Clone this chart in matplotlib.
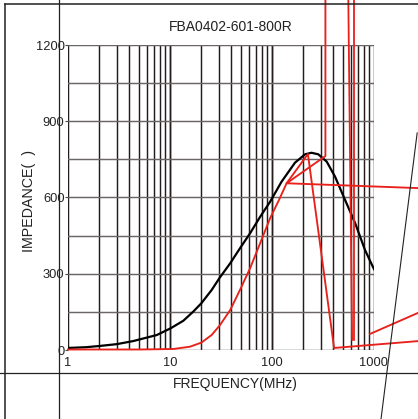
import numpy as np
import matplotlib
matplotlib.use("Agg")
import matplotlib.pyplot as plt

plt.rcParams['font.family'] = ['Liberation Sans', 'DejaVu Sans']

# ---- data ----
title = "FBA0402-601-800R"
x_label = "FREQUENCY(MHz)"
y_label = "IMPEDANCE(  )"
x_ticks = [1, 10, 100, 1000]
x_tick_labels = ["1", "10", "100", "1000"]
y_ticks = [0, 300, 600, 900, 1200]
y_grid = [0, 150, 300, 450, 600, 750, 900, 1050, 1200]

z_freq = [1, 1.5, 2.06, 3.0, 4.34, 5.08, 7.43, 10.1, 13.5, 16.9, 20.3, 25.6, 30.9, 38.9,
          48.5, 60.9, 76.5, 95.7, 124, 168, 211, 244, 284, 344, 415, 521, 655, 817, 1000]
z_vals = [8, 11, 16, 23, 35, 42, 59, 85, 115, 151, 184, 236, 286, 341,
          400, 459, 524, 583, 662, 737, 770, 776, 770, 741, 682, 590, 498, 393, 318]

r_freq = [1, 5, 10.8, 15.7, 20.3, 25.6, 30.9, 38.9, 48.5, 60.9, 76.5, 95.7, 117, 139, 225, 406, 2700]
r_vals = [2, 2, 4, 13, 29, 59, 98, 157, 236, 321, 420, 518, 590, 656, 771, 8, 35]

# stray red marker strokes on the scanned sheet (freq, impedance)
red_path_a_f = [334, 334, 139, 2700]
red_path_a_z = [1377, 763, 656, 637]
red_pair1_f = [560, 610]
red_pair1_z = [1377, 40]
red_pair2_f = [640, 640]
red_pair2_z = [1377, 40]
red_stub_f = [912, 2700]
red_stub_z = [63, 146]

# stray black line on the sheet
black_diag_f = [2650, 1172]
black_diag_z = [854, -271]

RED = '#e8211b'

fig = plt.figure(figsize=(4.18, 4.19), dpi=100)
ax = fig.add_axes([68/418, 1-350/419, 306/418, 305/419])
ax.set_xscale('log')
ax.set_xlim(1, 1000)
ax.set_ylim(0, 1200)

# grid
for dec in [1, 10, 100]:
    for m in range(1, 11):
        ax.axvline(dec*m, color='#231c1c', lw=1.05, zorder=1)
for g in y_grid:
    ax.axhline(g, color='#6b6565', lw=1.05, zorder=1)

for s in ax.spines.values():
    s.set_visible(False)

ax.set_xticks(x_ticks)
ax.set_xticklabels(x_tick_labels)
ax.xaxis.set_minor_locator(matplotlib.ticker.NullLocator())
ax.tick_params(axis='x', length=0, pad=5, labelsize=9.3, colors='#222222')
ax.set_yticks(y_ticks)
ax.tick_params(axis='y', length=2, width=0.8, pad=0.5, labelsize=9.3, colors='#444444', labelcolor='#222222')

ax.plot(z_freq, z_vals, color='black', lw=1.6, zorder=3, solid_joinstyle='round')
ax.plot(r_freq, r_vals, color=RED, lw=1.35, zorder=4, clip_on=False, solid_joinstyle='round')

ax.plot(red_path_a_f, red_path_a_z, color=RED, lw=1.35, zorder=4, clip_on=False)
ax.plot(red_pair1_f, red_pair1_z, color=RED, lw=1.3, zorder=4, clip_on=False)
ax.plot(red_pair2_f, red_pair2_z, color=RED, lw=1.3, zorder=4, clip_on=False)
ax.plot(red_stub_f, red_stub_z, color=RED, lw=1.35, zorder=4, clip_on=False)
ax.plot(black_diag_f, black_diag_z, color='#222222', lw=0.8, zorder=4, clip_on=False)

# sheet frame lines
fig.add_artist(plt.Line2D([5/418, 5/418], [0, 1-4/419], transform=fig.transFigure, color='#222222', lw=1.1))
fig.add_artist(plt.Line2D([5/418, 1], [1-4/419, 1-4/419], transform=fig.transFigure, color='#222222', lw=1.1))
fig.add_artist(plt.Line2D([59/418, 59/418], [0, 1], transform=fig.transFigure, color='#222222', lw=0.9))
fig.add_artist(plt.Line2D([0, 1], [1-373/419, 1-373/419], transform=fig.transFigure, color='#222222', lw=0.9))

fig.text(231/418, 1-27/419, title, ha='center', va='center', fontsize=10, color='#222222')
fig.text(235/418, 1-384/419, x_label, ha='center', va='center', fontsize=10, color='#222222')
fig.text(29/418, 1-201/419, y_label, ha='center', va='center', rotation=90, fontsize=10.3, color='#222222')

fig.savefig('out.png', dpi=100)
